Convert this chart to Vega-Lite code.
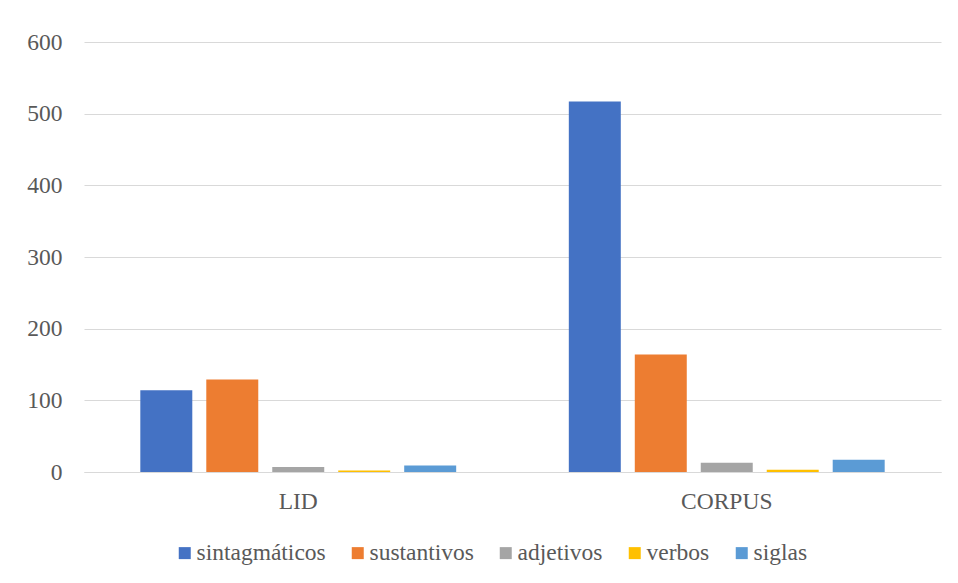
{
  "$schema": "https://vega.github.io/schema/vega-lite/v6.json",
  "width": 857,
  "height": 430,
  "autosize": "none",
  "padding": {"left": 84, "top": 42, "right": 17, "bottom": 111},
  "background": "white",
  "config": {
    "font": "Liberation Serif",
    "view": {"stroke": null},
    "text": {"font": "Liberation Serif"}
  },
  "data": {
    "values": [
      {"grupo": "LID", "tipo": "sintagmáticos", "valor": 114},
      {"grupo": "LID", "tipo": "sustantivos", "valor": 129},
      {"grupo": "LID", "tipo": "adjetivos", "valor": 7},
      {"grupo": "LID", "tipo": "verbos", "valor": 2},
      {"grupo": "LID", "tipo": "siglas", "valor": 9},
      {"grupo": "CORPUS", "tipo": "sintagmáticos", "valor": 517},
      {"grupo": "CORPUS", "tipo": "sustantivos", "valor": 164},
      {"grupo": "CORPUS", "tipo": "adjetivos", "valor": 13},
      {"grupo": "CORPUS", "tipo": "verbos", "valor": 3},
      {"grupo": "CORPUS", "tipo": "siglas", "valor": 17}
    ]
  },
  "mark": {"type": "bar"},
  "encoding": {
    "x": {
      "field": "grupo",
      "type": "nominal",
      "sort": ["LID", "CORPUS"],
      "scale": {"paddingInner": 0, "paddingOuter": 0},
      "axis": {
        "title": null,
        "labelAngle": 0,
        "ticks": false,
        "domainColor": "#D9D9D9",
        "domainWidth": 1,
        "labelFont": "Liberation Serif",
        "labelFontSize": 23.5,
        "labelColor": "#595959",
        "labelBaseline": "alphabetic",
        "labelPadding": 36
      }
    },
    "xOffset": {
      "field": "tipo",
      "type": "nominal",
      "sort": ["sintagmáticos", "sustantivos", "adjetivos", "verbos", "siglas"],
      "scale": {"paddingInner": 0.2121, "paddingOuter": 0.8536}
    },
    "y": {
      "field": "valor",
      "type": "quantitative",
      "scale": {"domain": [0, 600], "nice": false},
      "axis": {
        "title": null,
        "values": [0, 100, 200, 300, 400, 500, 600],
        "domain": false,
        "ticks": false,
        "labelFont": "Liberation Serif",
        "labelFontSize": 23.5,
        "labelColor": "#595959",
        "labelPadding": 22,
        "gridColor": "#D9D9D9",
        "gridWidth": 1
      }
    },
    "color": {
      "field": "tipo",
      "type": "nominal",
      "sort": ["sintagmáticos", "sustantivos", "adjetivos", "verbos", "siglas"],
      "scale": {
        "domain": ["sintagmáticos", "sustantivos", "adjetivos", "verbos", "siglas"],
        "range": ["#4472C4", "#ED7D31", "#A5A5A5", "#FFC000", "#5B9BD5"]
      },
      "legend": {
        "title": null,
        "orient": "none",
        "direction": "horizontal",
        "legendX": 89,
        "legendY": 499,
        "padding": 0,
        "labelFont": "Liberation Serif",
        "labelFontSize": 23.5,
        "labelColor": "#595959",
        "symbolType": "square",
        "symbolSize": 144,
        "symbolStrokeWidth": 0,
        "symbolOpacity": 1,
        "labelOffset": 0,
        "columnPadding": 20,
        "labelLimit": 400
      }
    }
  }
}
